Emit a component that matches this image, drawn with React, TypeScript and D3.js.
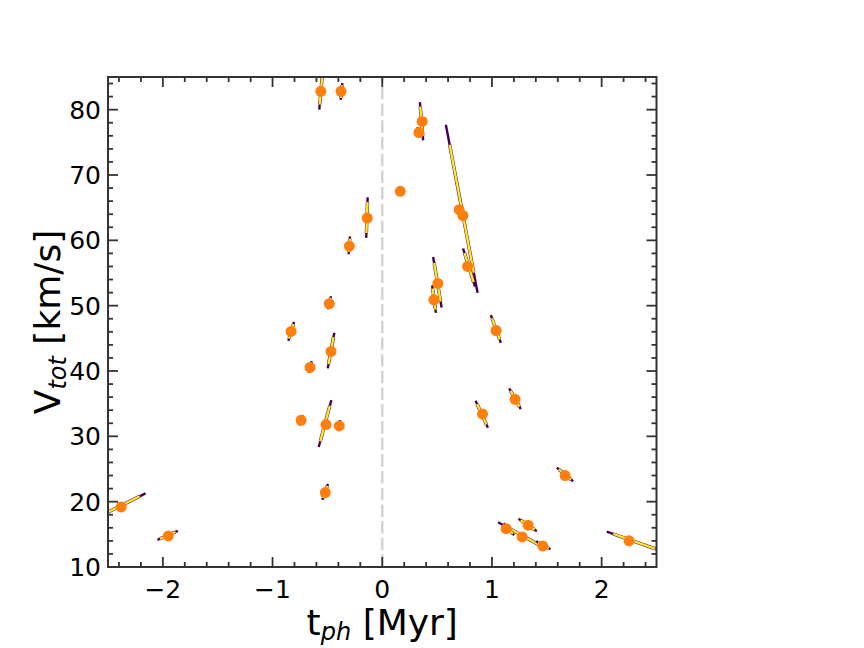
import React from "react";
import * as d3 from "d3";

// ---- data ----
const pointT = [-2.38, -1.95, -0.56, -0.376, -0.30, -0.137, -0.483, -0.831, -0.467, -0.658, -0.740, -0.513, -0.392, -0.519,
  0.364, 0.334, 0.164, 0.701, 0.735, 0.778, 0.507, 0.471, 1.038, 1.211, 0.914, 1.667, 1.33, 1.129, 1.275, 1.464, 2.25];
const pointV = [19.2, 14.75, 82.8, 82.8, 59.1, 63.4, 50.3, 46.05, 43.0, 40.55, 32.45, 31.8, 31.6, 21.4,
  78.2, 76.5, 67.5, 64.7, 63.8, 56.0, 53.4, 50.9, 46.2, 35.66, 33.4, 24.0, 16.4, 15.87, 14.6, 13.2, 14.0];

const trackT0 = [-2.6, -2.049, -0.574, -0.379, -0.306, -0.146, -0.497, -0.856, -0.497, -0.670, -0.756, -0.579, -0.401, -0.546,
  0.343, 0.322, 0.158, 0.580, 0.737, 0.464, 0.455, 0.990, 1.157, 0.851, 1.591, 1.242, 1.056, 1.108, 1.403, 2.046];
const trackV0 = [17.55, 14.14, 80.0, 81.5, 57.87, 60.37, 49.46, 44.62, 40.4, 39.72, 31.68, 28.36, 30.81, 20.26,
  81.16, 77.34, 68.27, 77.7, 58.75, 57.46, 53.13, 48.55, 37.34, 35.44, 25.2, 17.4, 16.85, 16.7, 13.94, 15.41];
const trackT1 = [-2.158, -1.863, -0.54, -0.364, -0.294, -0.133, -0.467, -0.804, -0.437, -0.643, -0.725, -0.464, -0.385, -0.495,
  0.373, 0.337, 0.168, 0.869, 0.846, 0.541, 0.489, 1.081, 1.263, 0.963, 1.740, 1.409, 1.497, 1.202, 1.534, 2.55];
const trackV1 = [21.28, 15.52, 86.5, 84.07, 60.6, 66.6, 51.45, 47.52, 45.84, 41.51, 33.26, 35.55, 32.49, 22.71,
  75.3, 75.8, 67.36, 51.96, 52.9, 49.72, 48.9, 44.31, 34.17, 31.31, 23.12, 15.47, 12.77, 14.86, 12.72, 12.43];

const xMajor = [-2, -1, 0, 1, 2];
const yMajor = [10, 20, 30, 40, 50, 60, 70, 80];

const W = 864, H = 648;
const L = 108, R = 656.5, T = 77, B = 567;

export default function App() {
  const x = d3.scaleLinear().domain([-2.5, 2.5]).range([L, R]);
  const y = d3.scaleLinear().domain([10, 85]).range([B, T]);
  const xMinor = d3.range(-2.4, 2.5, 0.2).map((v) => Math.round(v * 10) / 10).filter((v) => !xMajor.includes(v));
  const yMinor = d3.range(12, 85, 2).filter((v) => !yMajor.includes(v));
  const font = "DejaVu Sans";
  const spine = "#333333";
  const purple = "#440154";
  const yellow = "#fde725";

  const tracks = trackT0.map((t0, i) => {
    const x0 = x(t0), y0 = y(trackV0[i]), x1 = x(trackT1[i]), y1 = y(trackV1[i]);
    const f = (a: number) => [x0 + (x1 - x0) * a, y0 + (y1 - y0) * a];
    const [ax, ay] = f(0.12);
    const [bx, by] = f(0.88);
    return (
      <g key={i}>
        <line x1={x0} y1={y0} x2={x1} y2={y1} stroke={purple} strokeWidth={2.4} />
        <line x1={ax} y1={ay} x2={bx} y2={by} stroke={purple} strokeWidth={3.4} strokeOpacity={0.8} />
        <line x1={ax} y1={ay} x2={bx} y2={by} stroke={yellow} strokeWidth={2.4} />
      </g>
    );
  });

  return (
    <svg width={W} height={H} style={{ position: "absolute", left: 0, top: 0, background: "#fff" }} fontFamily={font}>
      <defs>
        <clipPath id="plotclip">
          <rect x={L} y={T} width={R - L} height={B - T} />
        </clipPath>
      </defs>
      <rect x={0} y={0} width={W} height={H} fill="#fff" />
      <g clipPath="url(#plotclip)">
        <line x1={x(0)} x2={x(0)} y1={B} y2={T} stroke="#d3d3d3" strokeWidth={2.5} strokeDasharray="12.5,4.2" />
        {tracks}
        {pointT.map((t, i) => (
          <circle key={i} cx={x(t)} cy={y(pointV[i])} r={5.5} fill="#ff7f0e" />
        ))}
      </g>
      {/* ticks */}
      <g stroke={spine} strokeWidth={1.8}>
        {xMajor.map((v) => (
          <g key={"xM" + v}>
            <line x1={x(v)} x2={x(v)} y1={B} y2={B - 10} />
            <line x1={x(v)} x2={x(v)} y1={T} y2={T + 10} />
          </g>
        ))}
        {xMinor.map((v) => (
          <g key={"xm" + v}>
            <line x1={x(v)} x2={x(v)} y1={B} y2={B - 5} />
            <line x1={x(v)} x2={x(v)} y1={T} y2={T + 5} />
          </g>
        ))}
        {yMajor.map((v) => (
          <g key={"yM" + v}>
            <line x1={L} x2={L + 10} y1={y(v)} y2={y(v)} />
            <line x1={R} x2={R - 10} y1={y(v)} y2={y(v)} />
          </g>
        ))}
        {yMinor.map((v) => (
          <g key={"ym" + v}>
            <line x1={L} x2={L + 5} y1={y(v)} y2={y(v)} />
            <line x1={R} x2={R - 5} y1={y(v)} y2={y(v)} />
          </g>
        ))}
      </g>
      <rect x={L} y={T} width={R - L} height={B - T} fill="none" stroke={spine} strokeWidth={2} />
      {/* tick labels */}
      {xMajor.map((v) => (
        <text key={"xl" + v} x={x(v)} y={B + 31} fontSize={25} textAnchor="middle" fill="#000">
          {v < 0 ? "\u2212" + Math.abs(v) : String(v)}
        </text>
      ))}
      {yMajor.map((v) => (
        <text key={"yl" + v} x={L - 7} y={y(v)} dy="0.36em" fontSize={25} textAnchor="end" fill="#000">
          {v}
        </text>
      ))}
      {/* axis labels */}
      <text x={(L + R) / 2} y={635} fontSize={36} textAnchor="middle" fill="#000">
        t<tspan fontStyle="italic" fontSize={24} dy={5}>ph</tspan>
        <tspan dy={-5}> [Myr]</tspan>
      </text>
      <text transform={`translate(60,${(T + B) / 2}) rotate(-90)`} fontSize={36} textAnchor="middle" fill="#000">
        V<tspan fontStyle="italic" fontSize={24} dy={6}>tot</tspan>
        <tspan dy={-6}> [km/s]</tspan>
      </text>
    </svg>
  );
}
